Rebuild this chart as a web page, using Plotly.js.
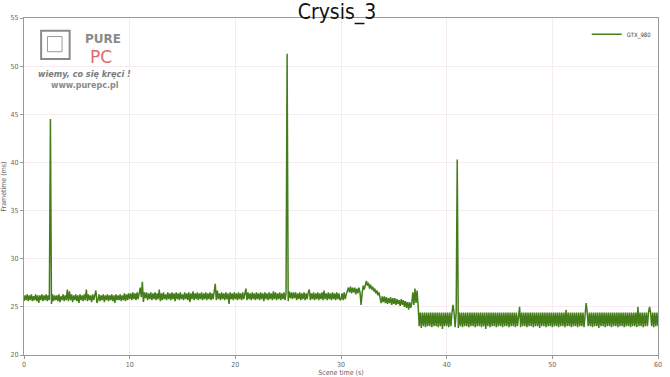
<!DOCTYPE html>
<html>
<head>
<meta charset="utf-8">
<script src="https://cdn.plot.ly/plotly-3.0.1.min.js"></script>
<style>html,body{margin:0;padding:0;background:#fff}#chart{width:670px;height:377px}</style>
</head>
<body>
<div id="chart"></div>
<script>
// Frametime samples (ms), one value every 0.1 s
const seriesName = 'GTX_980';
const startTime = 0;      // s
const sampleStep = 0.1;   // s
const seg0to10 = [
25.6,26.2,25.7,26.3,25.6,26.2,25.7,26.3,25.6,26.1,
25.7,26.3,25.6,26.2,25.4,26.2,25.7,26.3,25.6,26.2,
25.7,26.3,25.6,26.2,25.7,44.5,25.3,26.3,25.6,26.2,
25.7,26.2,25.6,26.3,25.5,26.1,25.7,26.3,25.6,26.2,
25.7,26.8,25.6,26.6,25.7,26.3,25.5,26.2,25.7,26.3,
25.6,26.2,25.4,26.3,25.7,26.2,25.6,26.3,25.7,26.8,
25.6,26.3,25.7,26.2,25.5,26.3,25.7,26.2,26.7,25.4,
25.7,26.3,25.6,26.2,25.7,26.3,25.5,26.2,25.7,26.3,
25.6,26.2,25.7,26.3,25.6,26.2,25.4,26.3,25.7,26.2,
25.7,26.3,25.6,26.2,25.7,26.4,25.6,26.3,25.7,26.4];
const seg10to20 = [
25.8,26.4,25.7,26.5,25.8,26.4,25.7,26.5,25.8,26.4,
27.0,26.0,27.6,25.5,26.5,25.9,26.5,25.7,26.4,25.8,
26.5,25.7,26.4,25.8,26.5,25.7,26.4,25.8,26.8,25.6,
26.4,25.7,26.5,25.8,26.3,25.7,26.5,25.8,26.4,25.7,
26.5,25.8,26.4,25.6,26.5,25.8,26.4,25.7,26.5,25.8,
26.3,25.7,26.5,25.8,26.4,25.7,26.5,25.5,26.4,25.8,
26.6,25.7,26.4,25.8,26.5,25.7,26.4,25.8,26.5,25.7,
26.4,25.8,26.5,25.7,26.4,25.8,26.5,25.7,26.4,25.8,
26.5,27.4,25.7,26.7,25.8,26.4,25.7,26.5,25.8,26.4,
25.7,26.5,25.8,26.4,25.3,26.5,25.8,26.4,25.7,26.5];
const seg20to30 = [
25.8,26.4,25.7,26.5,25.8,26.4,25.7,26.5,25.8,26.4,
26.9,25.7,26.5,25.8,26.4,25.7,26.5,25.8,26.4,25.7,
26.5,25.8,26.4,25.7,26.5,25.8,26.4,25.6,26.5,25.8,
26.4,25.7,26.5,25.8,26.4,25.7,26.6,25.8,26.5,25.7,
26.4,25.8,26.5,25.7,26.4,25.8,26.5,25.7,26.4,51.3,
25.6,26.6,25.9,26.5,25.8,26.5,25.9,26.5,25.7,26.4,
25.8,26.5,25.7,26.4,25.8,26.5,25.7,26.4,25.8,26.5,
26.8,25.7,26.4,25.8,26.5,25.7,26.4,25.8,26.5,25.7,
26.4,25.8,26.5,25.7,26.7,25.8,26.4,25.7,26.5,25.8,
26.4,25.7,26.5,25.8,26.4,25.7,26.5,25.8,26.4,25.7];
const seg30to40 = [
25.8,26.4,25.7,26.5,25.8,26.3,26.6,27.0,26.5,27.1,
26.4,27.0,26.5,27.0,26.3,26.9,26.4,27.0,26.5,25.2,
26.4,27.2,26.8,27.4,27.7,27.2,27.5,26.9,27.3,26.8,
27.1,26.6,26.9,26.4,26.7,26.2,26.5,25.9,25.4,26.1,
25.5,26.1,25.4,26.0,25.3,25.9,25.4,26.0,25.2,25.9,
25.3,25.9,25.2,25.8,25.3,25.7,25.1,25.8,25.2,25.7,
25.0,25.6,24.9,25.5,24.7,25.5,24.9,25.4,26.5,25.2,
26.9,25.4,26.7,25.1,23.0,24.4,22.8,24.4,23.0,24.4,
22.9,24.4,23.0,24.4,23.0,24.4,22.9,24.4,23.0,24.4,
23.0,24.4,22.9,24.4,23.0,24.4,22.7,24.4,23.0,24.4];
const seg40to50 = [
23.0,24.4,22.9,24.4,23.0,24.4,25.2,24.4,22.9,24.4,
40.3,22.8,24.4,23.0,24.4,22.9,24.4,23.0,24.4,23.0,
24.4,22.9,24.4,23.0,24.4,23.0,24.4,22.9,24.4,23.0,
24.4,23.0,24.4,22.9,24.4,23.0,24.4,22.7,24.4,23.0,
24.4,22.9,24.4,23.0,24.4,23.0,24.4,22.9,24.4,23.0,
24.4,23.0,24.4,22.9,24.4,23.0,24.4,23.0,24.4,22.9,
24.4,23.0,24.4,23.0,24.4,22.9,24.4,23.0,24.4,25.0,
22.9,24.4,23.0,24.4,23.0,24.4,22.9,24.4,23.0,24.4,
23.0,24.4,22.9,24.4,23.0,24.4,23.0,24.4,22.8,24.4,
23.0,24.4,23.0,24.4,22.9,24.4,23.0,24.4,23.0,24.4];
const seg50to60 = [
22.9,24.4,23.0,24.4,23.0,24.4,22.9,24.4,23.0,24.4,
23.0,24.4,22.9,24.7,23.0,24.4,23.0,24.4,22.9,24.4,
23.0,24.4,23.0,24.4,22.9,24.4,23.0,24.4,23.0,24.4,
22.9,24.4,25.4,24.4,23.0,24.4,23.0,24.4,22.9,24.4,
23.0,24.4,23.0,24.4,22.8,24.4,23.0,24.4,23.0,24.4,
22.9,24.4,23.0,24.4,23.0,24.4,22.9,24.4,23.0,24.4,
23.0,24.4,22.9,24.4,23.0,24.4,23.0,24.4,22.9,24.4,
23.0,24.4,23.0,24.4,22.9,24.4,23.0,24.4,23.0,24.4,
22.9,25.0,23.0,24.4,23.0,24.4,22.9,24.4,23.0,24.4,
23.0,24.4,25.0,24.4,23.0,24.4,22.9,24.4,23.0,24.4,
23.0];

const xTicks = [0,10,20,30,40,50,60];
const yTicks = [20,25,30,35,40,45,50,55];

const frametimes = [].concat(seg0to10, seg10to20, seg20to30, seg30to40, seg40to50, seg50to60);

const tickFont = {family:'DejaVu Sans Condensed, DejaVu Sans, sans-serif', size:7, color:'#666'};
const gridCol = '#f6ecef';
const axisCol = '#9a9a9a';

const trace = {
  type:'scatter', mode:'lines', name:seriesName,
  y: frametimes, x0: startTime, dx: sampleStep,
  line:{color:'#447d1a', width:1.5},
  showlegend:true
};

const logoText = {xref:'paper', yref:'paper', showarrow:false, xanchor:'center', yanchor:'middle'};

const layout = {
  width:670, height:377,
  margin:{l:24, r:12, t:18, b:22},
  paper_bgcolor:'#ffffff', plot_bgcolor:'#ffffff',
  title:{text:'Crysis_3', x:0.503, xanchor:'center', y:0.968, yanchor:'middle', yref:'container',
         font:{family:'Liberation Sans Narrow, DejaVu Sans Condensed, sans-serif', size:21, color:'#111'}},
  xaxis:{range:[0,60], tickvals:xTicks, ticktext:xTicks.map(String), showgrid:true, gridcolor:gridCol, gridwidth:1,
         zeroline:false, showline:true, linecolor:axisCol, linewidth:1, mirror:true,
         ticks:'outside', ticklen:3, tickcolor:axisCol, tickfont:tickFont,
         title:{text:'Scene time (s)', font:tickFont, standoff:4}},
  yaxis:{range:[20,55], tickvals:yTicks, ticktext:yTicks.map(String), showgrid:true, gridcolor:gridCol, gridwidth:1,
         zeroline:false, showline:true, linecolor:axisCol, linewidth:1, mirror:true,
         ticks:'outside', ticklen:3, tickcolor:axisCol, tickfont:tickFont,
         title:{text:'Frametime (ms)', font:tickFont, standoff:4}},
  legend:{x:0.998, y:0.995, xanchor:'right', yanchor:'top', bgcolor:'rgba(0,0,0,0)',
          font:{family:'DejaVu Sans Condensed, DejaVu Sans, sans-serif', size:6, color:'#444'}},
  shapes:[
    {type:'rect', xref:'paper', yref:'paper', x0:0.027, x1:0.072, y0:0.878, y1:0.962,
     line:{color:'#8a8a8a', width:2}, fillcolor:'rgba(0,0,0,0)'},
    {type:'rect', xref:'paper', yref:'paper', x0:0.037, x1:0.060, y0:0.900, y1:0.945,
     line:{color:'#9a9a9a', width:1}, fillcolor:'rgba(0,0,0,0)'}
  ],
  annotations:[
    Object.assign({x:0.124, y:0.938, text:'<b>PURE</b>',
     font:{family:'DejaVu Sans, sans-serif', size:12, color:'#8a8a8a'}}, logoText),
    Object.assign({x:0.122, y:0.885, text:'PC',
     font:{family:'DejaVu Sans, sans-serif', size:17, color:'#e06a6a'}}, logoText),
    Object.assign({x:0.095, y:0.834, text:'<b><i>wiemy, co się kręci !</i></b>',
     font:{family:'DejaVu Sans Condensed, sans-serif', size:9, color:'#7a7a7a'}}, logoText),
    Object.assign({x:0.096, y:0.799, text:'<b>www.purepc.pl</b>',
     font:{family:'DejaVu Sans, sans-serif', size:8, color:'#8a8a8a'}}, logoText)
  ]
};

Plotly.newPlot('chart', [trace], layout, {displayModeBar:false, staticPlot:true});
</script>
</body>
</html>
